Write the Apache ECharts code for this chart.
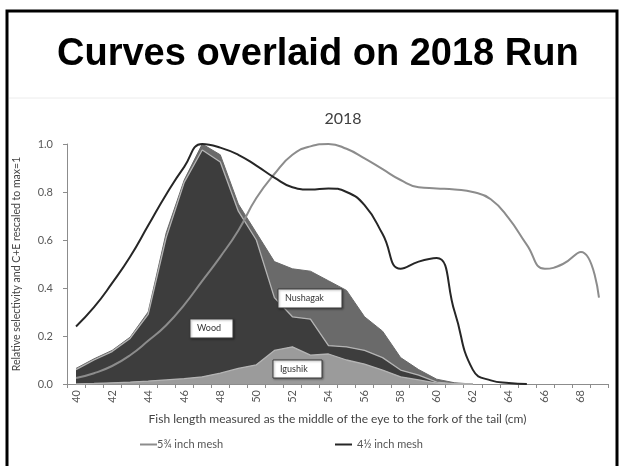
<!DOCTYPE html>
<html>
<head>
<meta charset="utf-8">
<script src="https://cdn.jsdelivr.net/npm/echarts@6/dist/echarts.min.js"></script>
<style>
  html, body { margin: 0; padding: 0; background: #fff; }
  #chart { width: 621px; height: 466px; }
</style>
</head>
<body>
<div id="chart"></div>
<script>
// Fish length categories (cm)
const lengths = ['40','41','42','43','44','45','46','47','48','49','50','51','52','53','54',
                 '55','56','57','58','59','60','61','62','63','64','65','66','67','68','69'];

// Relative selectivity curves
const mesh534 = [0.025,0.045,0.075,0.12,0.18,0.245,0.33,0.43,0.53,0.64,0.775,0.875,0.955,0.99,1.0,
                 0.98,0.94,0.895,0.85,0.82,0.815,0.81,0.80,0.77,0.69,0.58,0.48,0.50,0.55,0.36];
const mesh412 = [0.24,0.32,0.42,0.53,0.66,0.79,0.905,1.0,0.985,0.955,0.91,0.86,0.82,0.81,0.815,
                 0.80,0.745,0.625,0.48,0.51,0.525,0.30,0.06,0.015,0.004,0];

// Catch + escapement by stock, stacked (rescaled to max = 1), lengths 40-62
const igushik  = [0,0.002,0.005,0.008,0.012,0.017,0.022,0.03,0.045,0.065,0.08,0.14,0.155,0.12,0.125,
                  0.10,0.083,0.058,0.03,0.017,0.004,0,0];
const wood     = [0.06,0.098,0.13,0.182,0.278,0.593,0.818,0.945,0.88,0.655,0.52,0.22,0.125,0.15,0.035,
                  0.055,0.057,0.052,0.028,0.02,0.004,0,0];
const nushagak = [0.005,0.005,0.005,0.005,0.01,0.02,0.01,0.025,0.03,0.03,0.03,0.15,0.20,0.20,0.27,
                  0.235,0.14,0.11,0.052,0.023,0.012,0.005,0];

const yTicks = [0, 0.2, 0.4, 0.6, 0.8, 1.0];

const chart = echarts.init(document.getElementById('chart'), null, { renderer: 'canvas' });

const font = 'Lato, "Open Sans", sans-serif';
const boundary = { color: '#b4b4b4', width: 1.3 };

// white callout box with a stock name
function stockBox(cx, cy, w, h, label) {
  return [
    { type: 'rect', z: 100, shape: { x: cx - w / 2, y: cy - h / 2, width: w, height: h },
      style: { fill: '#fff', stroke: '#3a3a3a', lineWidth: 1,
               shadowBlur: 2, shadowColor: 'rgba(0,0,0,0.35)', shadowOffsetX: 1, shadowOffsetY: 1 } },
    { type: 'text', z: 101, x: cx - w / 2 + 7, y: cy,
      style: { text: label, fill: '#333', font: '9px ' + font, verticalAlign: 'middle', align: 'left' } }
  ];
}

chart.setOption({
  animation: false,
  grid: { left: 67, right: 13, top: 144, bottom: 82 },
  title: {
    text: '2018',
    left: 338, top: 106, textAlign: 'center',
    textStyle: { fontFamily: font, fontSize: 16, fontWeight: 'normal', color: '#404040' }
  },
  legend: [
    { data: ['5¾ inch mesh'], left: 135, top: 434, itemWidth: 17, itemHeight: 2, icon: 'rect',
      textStyle: { fontFamily: font, fontSize: 11, color: '#555', padding: [0, 0, 0, -5] } },
    { data: ['4½ inch mesh'], left: 330, top: 434, itemWidth: 17, itemHeight: 2, icon: 'rect',
      textStyle: { fontFamily: font, fontSize: 11, color: '#555' } }
  ],
  xAxis: {
    type: 'category',
    data: lengths,
    boundaryGap: true,
    name: 'Fish length measured as the middle of the eye to the fork of the tail (cm)',
    nameLocation: 'middle',
    nameGap: 29,
    nameTextStyle: { fontFamily: font, fontSize: 12, color: '#444' },
    axisLine: { lineStyle: { color: '#8c8c8c', width: 1 } },
    axisTick: { show: true, interval: 0, length: 4, lineStyle: { color: '#8c8c8c' } },
    axisLabel: { interval: 1, rotate: 90, margin: 6, fontFamily: font, fontSize: 11, color: '#595959' },
    splitLine: { show: false }
  },
  yAxis: {
    type: 'value',
    min: 0, max: 1, interval: 0.2,
    name: 'Relative selectivity and C+E rescaled to max=1',
    nameLocation: 'middle',
    nameGap: 45,
    nameTextStyle: { fontFamily: font, fontSize: 10.5, color: '#444' },
    axisLine: { show: true, lineStyle: { color: '#8c8c8c', width: 1 } },
    axisTick: { show: true, length: 4, lineStyle: { color: '#8c8c8c' } },
    axisLabel: { margin: 14, fontFamily: font, fontSize: 11, color: '#595959',
                 formatter: v => yTicks.includes(+v.toFixed(1)) ? v.toFixed(1) : '' },
    splitLine: { show: false }
  },
  series: [
    { name: 'Igushik', type: 'line', stack: 'ce', data: igushik, symbol: 'none',
      lineStyle: boundary, areaStyle: { color: '#9b9b9b', opacity: 1 }, z: 2 },
    { name: 'Wood', type: 'line', stack: 'ce', data: wood, symbol: 'none',
      lineStyle: boundary, areaStyle: { color: '#3d3d3d', opacity: 1 }, z: 2 },
    { name: 'Nushagak', type: 'line', stack: 'ce', data: nushagak, symbol: 'none',
      lineStyle: { color: '#6a6a6a', width: 1 }, areaStyle: { color: '#6a6a6a', opacity: 1 }, z: 1 },
    { name: '5¾ inch mesh', type: 'line', data: mesh534, symbol: 'none', smooth: 0.5,
      color: '#8c8c8c', lineStyle: { color: '#8c8c8c', width: 2 }, z: 5 },
    { name: '4½ inch mesh', type: 'line', data: mesh412, symbol: 'none', smooth: 0.5,
      color: '#262626', lineStyle: { color: '#262626', width: 2 }, z: 6 }
  ],
  graphic: [
    // slide frame and header
    { type: 'rect', z: 50, shape: { x: 7, y: 11, width: 610, height: 470 },
      style: { fill: 'none', stroke: '#000', lineWidth: 3 } },
    { type: 'line', shape: { x1: 9, y1: 98, x2: 615, y2: 98 },
      style: { stroke: '#ececec', lineWidth: 1 } },
    { type: 'text', x: 57, y: 55,
      style: { text: 'Curves overlaid on 2018 Run', fill: '#000',
               font: 'bold 38px "Liberation Sans", Arial, sans-serif', verticalAlign: 'middle', align: 'left' } },
    ...stockBox(211.5, 328.5, 43, 19, 'Wood'),
    ...stockBox(310, 298.5, 64, 19, 'Nushagak'),
    ...stockBox(297.5, 369, 49, 18, 'Igushik')
  ]
});
</script>
</body>
</html>
